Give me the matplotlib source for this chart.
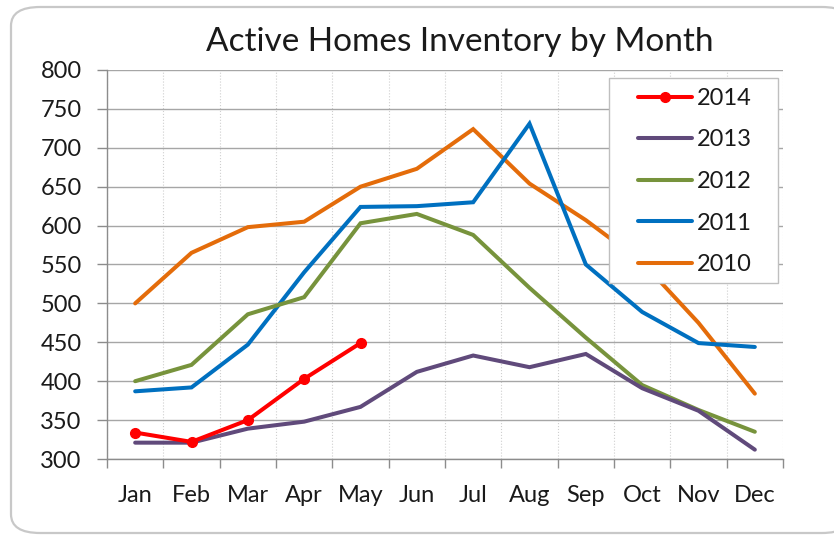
import matplotlib.pyplot as plt
import numpy as np
from matplotlib.patches import FancyBboxPatch, Rectangle

plt.rcParams['font.family'] = ['Lato', 'DejaVu Sans']

months = ['Jan', 'Feb', 'Mar', 'Apr', 'May', 'Jun',
          'Jul', 'Aug', 'Sep', 'Oct', 'Nov', 'Dec']
inv_2014 = [334, 322, 350, 403, 449]
inv_2013 = [321, 321, 339, 348, 367, 412, 433, 418, 435, 391, 362, 312]
inv_2012 = [400, 421, 486, 508, 603, 615, 588, 520, 456, 395, 363, 335]
inv_2011 = [387, 392, 447, 540, 624, 625, 630, 731, 550, 489, 449, 444]
inv_2010 = [500, 565, 598, 605, 650, 673, 724, 654, 607, 553, 475, 384]

series = [('2014', inv_2014, '#ff0000'),
          ('2013', inv_2013, '#604a7b'),
          ('2012', inv_2012, '#77933c'),
          ('2011', inv_2011, '#0070c0'),
          ('2010', inv_2010, '#e46c0a')]

fig = plt.figure(figsize=(8.34, 5.35), dpi=100)
fig.patch.set_facecolor('white')

# rounded chart frame
frame = FancyBboxPatch((11 / 834, 2 / 535), 840 / 834, 526 / 535,
                       boxstyle='round,pad=0,rounding_size=0.035',
                       transform=fig.transFigure, facecolor='white',
                       edgecolor='#c8c8c8', linewidth=1.6, zorder=-1)
fig.patches.append(frame)

ax = fig.add_axes([107 / 834, 1 - 459 / 535, 676 / 834, 389 / 535])
ax.set_facecolor('none')

x = np.arange(1, 13)
handles = {}
for name, vals, col in reversed(series):
    xs = x[:len(vals)]
    if name == '2014':
        h, = ax.plot(xs, vals, color=col, lw=2.9, marker='o', ms=7,
                     solid_capstyle='round', zorder=3.5)
    else:
        h, = ax.plot(xs, vals, color=col, lw=2.9, solid_capstyle='round',
                     solid_joinstyle='miter', zorder=3)
    handles[name] = h

ax.set_xlim(0.5, 12.5)
ax.set_ylim(300, 800)
ax.set_yticks(np.arange(300, 801, 50))
ax.set_xticks(np.arange(0.5, 13, 1))
ax.set_xticklabels([])
ax.set_xticks(x, minor=True)
ax.set_xticklabels(months, minor=True)

ax.tick_params(axis='x', which='major', length=6.5, width=1, color='#8c8c8c')
ax.tick_params(axis='x', which='minor', length=0, pad=19, labelsize=17,
               labelcolor='#1a1a1a')
ax.tick_params(axis='y', length=7.2, width=1, color='#8c8c8c', pad=11,
               labelsize=17, labelcolor='#1a1a1a')

ax.grid(axis='y', color='#a6a6a6', lw=1.0, zorder=1)
ax.grid(axis='x', which='major', color='#cfcfcf', lw=0.8, ls=':', zorder=1)
ax.set_axisbelow(True)
for s in ['top', 'right']:
    ax.spines[s].set_visible(False)
for s in ['left', 'bottom']:
    ax.spines[s].set_color('#8c8c8c')
    ax.spines[s].set_linewidth(1.0)

fig.text(460 / 834, 1 - 42 / 535, 'Active Homes Inventory by Month',
         ha='center', va='center', fontsize=24, color='#1a1a1a')

# legend box
box = Rectangle((0.7426, 0.452), 0.25, 0.527, transform=ax.transAxes,
                facecolor='white', edgecolor='#bfbfbf', lw=1.0, zorder=4.5)
ax.add_patch(box)
leg = ax.legend([handles[n] for n, _, _ in series], [n for n, _, _ in series],
                loc='upper left', bbox_to_anchor=(0.7855, 0.954),
                frameon=False, borderpad=0, borderaxespad=0,
                fontsize=17, handlelength=2.3, handletextpad=0.2,
                labelspacing=0.87)
leg.set_zorder(5)
for t in leg.get_texts():
    t.set_color('#1a1a1a')

fig.savefig('out.png', dpi=100)
